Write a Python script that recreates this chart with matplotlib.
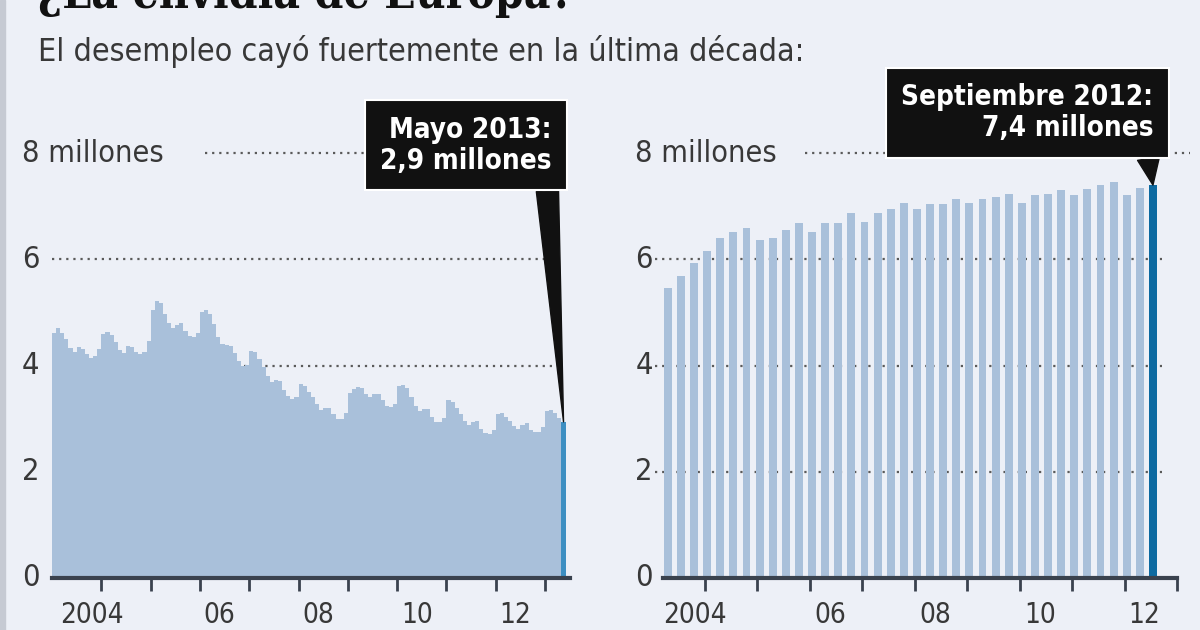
import matplotlib
matplotlib.use('Agg')
import matplotlib.pyplot as plt
import pandas as pd

# Desempleo mensual (millones), ene 2003 - may 2013
paro_meses = pd.date_range('2003-01-01', '2013-05-01', freq='MS')
paro_valores = [
    4.62, 4.71, 4.61, 4.50, 4.34, 4.26, 4.35, 4.32, 4.21, 4.15, 4.18, 4.32,
    4.60, 4.64, 4.58, 4.44, 4.30, 4.23, 4.36, 4.35, 4.26, 4.21, 4.26, 4.46,
    5.04, 5.22, 5.18, 4.97, 4.81, 4.71, 4.77, 4.80, 4.65, 4.56, 4.53, 4.61,
    5.01, 5.05, 4.98, 4.79, 4.54, 4.40, 4.39, 4.37, 4.24, 4.08, 3.99, 4.01,
    4.28, 4.25, 4.13, 3.97, 3.81, 3.69, 3.72, 3.71, 3.54, 3.43, 3.38, 3.41,
    3.66, 3.62, 3.51, 3.41, 3.28, 3.16, 3.21, 3.20, 3.08, 3.00, 2.99, 3.10,
    3.49, 3.55, 3.59, 3.58, 3.46, 3.41, 3.46, 3.47, 3.35, 3.23, 3.22, 3.28,
    3.62, 3.64, 3.57, 3.41, 3.24, 3.15, 3.19, 3.19, 3.03, 2.94, 2.93, 3.02,
    3.35, 3.31, 3.21, 3.08, 2.96, 2.89, 2.94, 2.95, 2.80, 2.74, 2.71, 2.78,
    3.08, 3.11, 3.03, 2.96, 2.86, 2.81, 2.88, 2.91, 2.79, 2.75, 2.75, 2.84,
    3.14, 3.16, 3.10, 3.02, 2.94,
]

# Serie trimestral (millones), jun 2003 - sep 2012
trim_meses = pd.date_range('2003-06-01', '2012-09-01', freq='3MS')
trim_valores = [
    5.46, 5.69, 5.93, 6.16, 6.41, 6.51, 6.60, 6.37, 6.41, 6.55, 6.68, 6.52, 6.69,
    6.68, 6.87, 6.71, 6.87, 6.94, 7.06, 6.95, 7.04, 7.04, 7.13, 7.06, 7.13, 7.17, 7.24,
    7.06, 7.21, 7.24, 7.31, 7.21, 7.32, 7.40, 7.46, 7.21, 7.34, 7.40,
]

anios_ticks = list(range(2004, 2014))
anios_etiquetas = {2004: '2004', 2006: '06', 2008: '08', 2010: '10', 2012: '12'}
y_ticks = [0, 2, 4, 6, 8]
y_etiquetas = ['0', '2', '4', '6', '8 millones']

titulo = '¿La envidia de Europa?'
subtitulo = 'El desempleo cayó fuertemente en la última década:'
nota_izq = 'Mayo 2013:\n2,9 millones'
nota_der = 'Septiembre 2012:\n7,4 millones'

fondo = '#edf0f7'
azul_claro = '#a9c0da'
oscuro = '#3a424e'
texto = '#383838'

plt.rcParams['font.family'] = ['DejaVu Sans']
plt.rcParams['font.stretch'] = 'condensed'

fig = plt.figure(figsize=(12, 6.3), dpi=100, facecolor=fondo)
fig.patches.append(plt.Rectangle((0, 0), 5 / 1200, 1, transform=fig.transFigure,
                                 color='#c6cad3', zorder=0))

fig.text(38 / 1200, 1 - 8 / 630, titulo, fontsize=33, family='DejaVu Serif',
         weight='bold', va='baseline', ha='left', color='#111')
fig.text(38 / 1200, 1 - 52 / 630, subtitulo, fontsize=23, va='center', ha='left', color=texto)

ymax = 518 / 53.1
ax1 = fig.add_axes([52 / 1200, 52 / 630, 517.7 / 1200, 518 / 630])
ax2 = fig.add_axes([663 / 1200, 52 / 630, 514 / 1200, 518 / 630])


def x_mes(fechas, centro):
    return [f.year + (f.month - 1 + centro) / 12 for f in fechas]


x1 = x_mes(paro_meses, 0.5)
col1 = [azul_claro] * (len(x1) - 1) + ['#3d8fc2']
ax1.bar(x1, paro_valores, width=1 / 12, color=col1, linewidth=0, zorder=2)
ax1.set_xlim(2003, 2013.5)

x2 = x_mes(trim_meses, -1.5)
col2 = [azul_claro] * (len(x2) - 1) + ['#0d6aa1']
ax2.bar(x2, trim_valores, width=0.15, color=col2, linewidth=0, zorder=2)
ax2.set_xlim(2003.2, 2012.77)

rejilla = dict(color='#5a5a5a', linestyle=(0, (1, 2.2)), linewidth=1.6, zorder=1)
for ax, lab_x, g8, g_otros in [(ax1, -0.058, (0.2955, 0.975), (0.0, 0.975)),
                               (ax2, -0.054, (0.276, 1.025), (-0.016, 0.97))]:
    ax.set_facecolor('none')
    ax.set_ylim(0, ymax)
    for s in ['top', 'left', 'right']:
        ax.spines[s].set_visible(False)
    ax.spines['bottom'].set_linewidth(3)
    ax.spines['bottom'].set_color(oscuro)
    ax.spines['bottom'].set_zorder(3)
    ax.set_yticks([])
    ax.set_xticks(anios_ticks)
    ax.tick_params(axis='x', length=9, width=2, color=oscuro, labelbottom=False)
    for v, lab in zip(y_ticks, y_etiquetas):
        ax.text(lab_x, v, lab, transform=ax.get_yaxis_transform(), ha='left', va='center',
                fontsize=22, color=texto, clip_on=False)
        if v == 0:
            continue
        a, b = g8 if v == 8 else g_otros
        ax.axhline(v, a, b, clip_on=False, **rejilla)
    for anio, lab in anios_etiquetas.items():
        if anio == 2004:
            ax.text(anio - 0.2, -0.96, lab, ha='center', va='bottom', fontsize=20,
                    color=texto, clip_on=False)
        else:
            ax.text(anio + 0.08, -0.96, lab, ha='left', va='bottom', fontsize=20,
                    color=texto, clip_on=False)

caja = dict(boxstyle='square,pad=0.55', fc='#111111', ec='white', lw=1.5)
flecha = dict(arrowstyle='wedge,tail_width=0.8,shrink_factor=0.5', fc='#111111',
              ec='#111111', relpos=(0.97, 0.0), shrinkA=0, shrinkB=0)
ax1.annotate(nota_izq, xy=(x1[-1], paro_valores[-1]), xytext=(2013.13, 8.15),
             ha='right', va='center', fontsize=20, weight='bold', color='white',
             linespacing=1.15, bbox=caja, arrowprops=flecha, zorder=5,
             annotation_clip=False)
ax2.annotate(nota_der, xy=(x2[-1], trim_valores[-1]), xytext=(2012.55, 8.76),
             ha='right', va='center', fontsize=20, weight='bold', color='white',
             linespacing=1.15, bbox=caja, arrowprops=flecha, zorder=5,
             annotation_clip=False)

fig.savefig('out.png', dpi=100, facecolor=fondo)
